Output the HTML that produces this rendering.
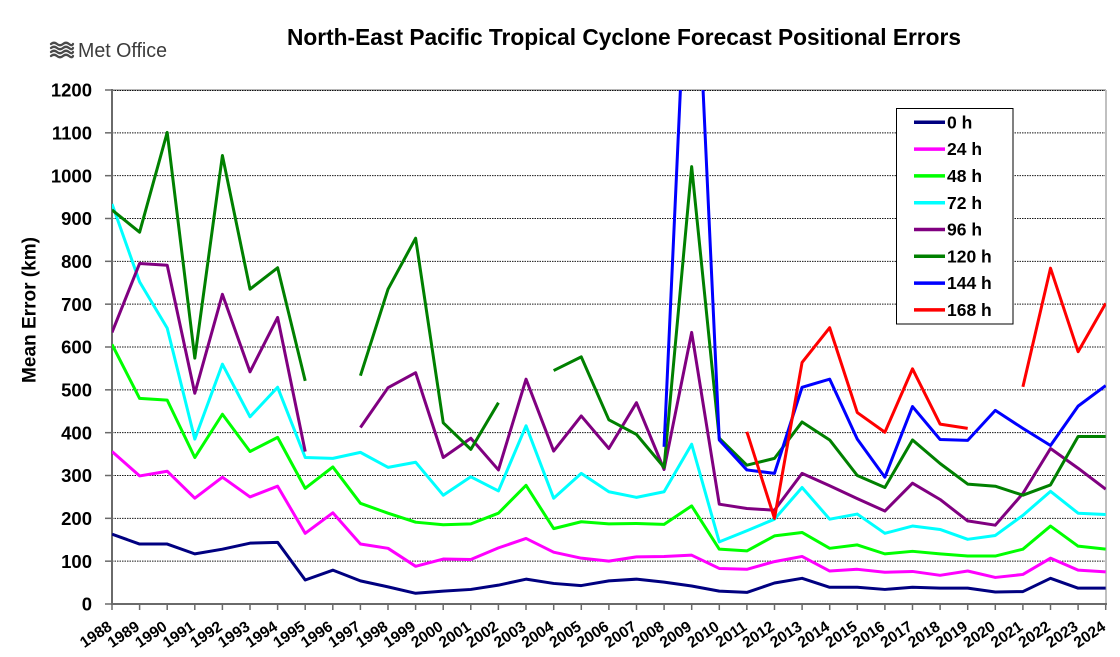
<!DOCTYPE html>
<html>
<head>
<meta charset="utf-8">
<style>
  html, body { margin: 0; padding: 0; background: #ffffff; }
  body { width: 1120px; height: 657px; overflow: hidden; }
  svg { display: block; }
  text { font-family: "Liberation Sans", Arial, sans-serif; }
</style>
</head>
<body>
<svg width="1120" height="657" viewBox="0 0 1120 657" xmlns="http://www.w3.org/2000/svg">
  <defs>
    <clipPath id="plot" clipPathUnits="userSpaceOnUse">
      <rect x="112" y="90" width="994" height="514"/>
    </clipPath>
  </defs>
  <rect x="0" y="0" width="1120" height="657" fill="#ffffff"/>

  <!-- Met Office logo -->
  <g fill="none" stroke="#4a4a4a" stroke-width="2.3" stroke-linecap="round">
    <path d="M51,44 q3,-2.5 6,0 t6,0 t6,0 t4,0"/>
    <path d="M51,48 q3,-2.5 6,0 t6,0 t6,0 t4,0"/>
    <path d="M51,52 q3,-2.5 6,0 t6,0 t6,0 t4,0"/>
    <path d="M51,56 q3,-2.5 6,0 t6,0 t6,0 t4,0"/>
  </g>
  <text x="78" y="57" font-size="20" fill="#3c3c3c" textLength="89" lengthAdjust="spacingAndGlyphs">Met Office</text>

  <!-- Title -->
  <text x="287" y="45" font-size="23" font-weight="bold" fill="#000" textLength="674" lengthAdjust="spacingAndGlyphs">North-East Pacific Tropical Cyclone Forecast Positional Errors</text>

  <!-- Y axis title -->
  <text transform="translate(35.5,310) rotate(-90)" text-anchor="middle" font-size="19" font-weight="bold" fill="#000" textLength="146" lengthAdjust="spacingAndGlyphs">Mean Error (km)</text>

  <!-- plot borders (top/right light gray) -->
  <line x1="112" y1="90" x2="1106" y2="90" stroke="#b8b8b8" stroke-width="2"/>
  <line x1="1106" y1="90" x2="1106" y2="604" stroke="#c0c0c0" stroke-width="2"/>

  <!-- gridlines -->
  <g stroke="#000" stroke-width="1" stroke-dasharray="1.5,1" opacity="0.9">
    <line x1="112" y1="90.5" x2="1105" y2="90.5"/>
    <line x1="112" y1="132.83" x2="1105" y2="132.83"/>
    <line x1="112" y1="175.67" x2="1105" y2="175.67"/>
    <line x1="112" y1="218.5" x2="1105" y2="218.5"/>
    <line x1="112" y1="261.33" x2="1105" y2="261.33"/>
    <line x1="112" y1="304.17" x2="1105" y2="304.17"/>
    <line x1="112" y1="347" x2="1105" y2="347"/>
    <line x1="112" y1="389.83" x2="1105" y2="389.83"/>
    <line x1="112" y1="432.67" x2="1105" y2="432.67"/>
    <line x1="112" y1="475.5" x2="1105" y2="475.5"/>
    <line x1="112" y1="518.33" x2="1105" y2="518.33"/>
    <line x1="112" y1="561.17" x2="1105" y2="561.17"/>
  </g>

  <!-- axes -->
  <g stroke="#6a6a6a" stroke-width="2">
    <line x1="112" y1="89" x2="112" y2="605"/>
    <line x1="111" y1="604" x2="1107" y2="604"/>
  </g>
  <!-- y ticks -->
  <g stroke="#6a6a6a" stroke-width="1.5">
    <line x1="105" y1="90" x2="112" y2="90"/>
    <line x1="105" y1="132.83" x2="112" y2="132.83"/>
    <line x1="105" y1="175.67" x2="112" y2="175.67"/>
    <line x1="105" y1="218.5" x2="112" y2="218.5"/>
    <line x1="105" y1="261.33" x2="112" y2="261.33"/>
    <line x1="105" y1="304.17" x2="112" y2="304.17"/>
    <line x1="105" y1="347" x2="112" y2="347"/>
    <line x1="105" y1="389.83" x2="112" y2="389.83"/>
    <line x1="105" y1="432.67" x2="112" y2="432.67"/>
    <line x1="105" y1="475.5" x2="112" y2="475.5"/>
    <line x1="105" y1="518.33" x2="112" y2="518.33"/>
    <line x1="105" y1="561.17" x2="112" y2="561.17"/>
    <line x1="105" y1="604" x2="112" y2="604"/>
  </g>
  <!-- x ticks -->
  <g stroke="#6a6a6a" stroke-width="1.5">
    <line x1="112" y1="604" x2="112" y2="610"/>
    <line x1="139.6" y1="604" x2="139.6" y2="610"/>
    <line x1="167.2" y1="604" x2="167.2" y2="610"/>
    <line x1="194.8" y1="604" x2="194.8" y2="610"/>
    <line x1="222.4" y1="604" x2="222.4" y2="610"/>
    <line x1="250.0" y1="604" x2="250.0" y2="610"/>
    <line x1="277.6" y1="604" x2="277.6" y2="610"/>
    <line x1="305.2" y1="604" x2="305.2" y2="610"/>
    <line x1="332.8" y1="604" x2="332.8" y2="610"/>
    <line x1="360.4" y1="604" x2="360.4" y2="610"/>
    <line x1="388.0" y1="604" x2="388.0" y2="610"/>
    <line x1="415.6" y1="604" x2="415.6" y2="610"/>
    <line x1="443.2" y1="604" x2="443.2" y2="610"/>
    <line x1="470.8" y1="604" x2="470.8" y2="610"/>
    <line x1="498.4" y1="604" x2="498.4" y2="610"/>
    <line x1="526.0" y1="604" x2="526.0" y2="610"/>
    <line x1="553.7" y1="604" x2="553.7" y2="610"/>
    <line x1="581.3" y1="604" x2="581.3" y2="610"/>
    <line x1="608.9" y1="604" x2="608.9" y2="610"/>
    <line x1="636.5" y1="604" x2="636.5" y2="610"/>
    <line x1="664.1" y1="604" x2="664.1" y2="610"/>
    <line x1="691.7" y1="604" x2="691.7" y2="610"/>
    <line x1="719.3" y1="604" x2="719.3" y2="610"/>
    <line x1="746.9" y1="604" x2="746.9" y2="610"/>
    <line x1="774.5" y1="604" x2="774.5" y2="610"/>
    <line x1="802.1" y1="604" x2="802.1" y2="610"/>
    <line x1="829.7" y1="604" x2="829.7" y2="610"/>
    <line x1="857.3" y1="604" x2="857.3" y2="610"/>
    <line x1="884.9" y1="604" x2="884.9" y2="610"/>
    <line x1="912.5" y1="604" x2="912.5" y2="610"/>
    <line x1="940.1" y1="604" x2="940.1" y2="610"/>
    <line x1="967.7" y1="604" x2="967.7" y2="610"/>
    <line x1="995.3" y1="604" x2="995.3" y2="610"/>
    <line x1="1022.9" y1="604" x2="1022.9" y2="610"/>
    <line x1="1050.5" y1="604" x2="1050.5" y2="610"/>
    <line x1="1078.1" y1="604" x2="1078.1" y2="610"/>
    <line x1="1105.7" y1="604" x2="1105.7" y2="610"/>
  </g>

  <!-- y tick labels -->
  <g font-size="18.5" font-weight="bold" fill="#000" text-anchor="end">
    <text x="92" y="96.7">1200</text>
    <text x="92" y="139.5">1100</text>
    <text x="92" y="182.4">1000</text>
    <text x="92" y="225.2">900</text>
    <text x="92" y="268.0">800</text>
    <text x="92" y="310.9">700</text>
    <text x="92" y="353.7">600</text>
    <text x="92" y="396.5">500</text>
    <text x="92" y="439.4">400</text>
    <text x="92" y="482.2">300</text>
    <text x="92" y="525.0">200</text>
    <text x="92" y="567.9">100</text>
    <text x="92" y="610.7">0</text>
  </g>

  <!-- x tick labels -->
  <g font-size="15.5" font-weight="bold" fill="#000" text-anchor="end">
    <text transform="translate(113,629) rotate(-34)">1988</text>
    <text transform="translate(140.6,629) rotate(-34)">1989</text>
    <text transform="translate(168.2,629) rotate(-34)">1990</text>
    <text transform="translate(195.8,629) rotate(-34)">1991</text>
    <text transform="translate(223.4,629) rotate(-34)">1992</text>
    <text transform="translate(251.0,629) rotate(-34)">1993</text>
    <text transform="translate(278.6,629) rotate(-34)">1994</text>
    <text transform="translate(306.2,629) rotate(-34)">1995</text>
    <text transform="translate(333.8,629) rotate(-34)">1996</text>
    <text transform="translate(361.4,629) rotate(-34)">1997</text>
    <text transform="translate(389.0,629) rotate(-34)">1998</text>
    <text transform="translate(416.6,629) rotate(-34)">1999</text>
    <text transform="translate(444.2,629) rotate(-34)">2000</text>
    <text transform="translate(471.8,629) rotate(-34)">2001</text>
    <text transform="translate(499.4,629) rotate(-34)">2002</text>
    <text transform="translate(527.0,629) rotate(-34)">2003</text>
    <text transform="translate(554.7,629) rotate(-34)">2004</text>
    <text transform="translate(582.3,629) rotate(-34)">2005</text>
    <text transform="translate(609.9,629) rotate(-34)">2006</text>
    <text transform="translate(637.5,629) rotate(-34)">2007</text>
    <text transform="translate(665.1,629) rotate(-34)">2008</text>
    <text transform="translate(692.7,629) rotate(-34)">2009</text>
    <text transform="translate(720.3,629) rotate(-34)">2010</text>
    <text transform="translate(747.9,629) rotate(-34)">2011</text>
    <text transform="translate(775.5,629) rotate(-34)">2012</text>
    <text transform="translate(803.1,629) rotate(-34)">2013</text>
    <text transform="translate(830.7,629) rotate(-34)">2014</text>
    <text transform="translate(858.3,629) rotate(-34)">2015</text>
    <text transform="translate(885.9,629) rotate(-34)">2016</text>
    <text transform="translate(913.5,629) rotate(-34)">2017</text>
    <text transform="translate(941.1,629) rotate(-34)">2018</text>
    <text transform="translate(968.7,629) rotate(-34)">2019</text>
    <text transform="translate(996.3,629) rotate(-34)">2020</text>
    <text transform="translate(1023.9,629) rotate(-34)">2021</text>
    <text transform="translate(1051.5,629) rotate(-34)">2022</text>
    <text transform="translate(1079.1,629) rotate(-34)">2023</text>
    <text transform="translate(1106.7,629) rotate(-34)">2024</text>
  </g>

  <!-- series -->
  <g clip-path="url(#plot)">
    <g transform="translate(112,604) scale(27.603,-0.42833)" fill="none" stroke-linejoin="round" stroke-linecap="butt">
      <!-- 0 h -->
      <polyline vector-effect="non-scaling-stroke" stroke="#000080" stroke-width="3"
        points="0,163 1,140 2,140 3,117 4,128 5,142 6,144 7,56 8,79 9,54 10,40 11,25 12,30 13,34 14,44 15,58 16,48 17,43 18,54 19,58 20,51 21,42 22,30 23,27 24,49 25,60 26,39 27,39 28,34 29,39 30,37 31,37 32,28 33,29 34,60 35,37 36,37"/>
      <!-- 24 h -->
      <polyline vector-effect="non-scaling-stroke" stroke="#FF00FF" stroke-width="3"
        points="0,356 1,299 2,310 3,247 4,296 5,250 6,275 7,165 8,213 9,140 10,130 11,88 12,105 13,104 14,131 15,153 16,121 17,107 18,100 19,110 20,111 21,114 22,83 23,81 24,99 25,111 26,77 27,81 28,74 29,76 30,67 31,77 32,62 33,69 34,107 35,79 36,75"/>
      <!-- 48 h -->
      <polyline vector-effect="non-scaling-stroke" stroke="#00FF00" stroke-width="3"
        points="0,606 1,480 2,476 3,342 4,443 5,356 6,389 7,270 8,320 9,235 10,212 11,191 12,185 13,187 14,212 15,277 16,176 17,192 18,187 19,188 20,186 21,229 22,128 23,124 24,159 25,167 26,130 27,138 28,117 29,123 30,117 31,112 32,112 33,128 34,182 35,135 36,128"/>
      <!-- 72 h -->
      <polyline vector-effect="non-scaling-stroke" stroke="#00FFFF" stroke-width="3"
        points="0,934 1,752 2,644 3,385 4,560 5,437 6,506 7,342 8,340 9,354 10,319 11,331 12,254 13,297 14,264 15,416 16,247 17,305 18,262 19,249 20,262 21,373 22,145 23,171 24,198 25,272 26,198 27,210 28,165 29,182 30,174 31,151 32,160 33,207 34,263 35,212 36,209"/>
      <!-- 96 h -->
      <polyline vector-effect="non-scaling-stroke" stroke="#800080" stroke-width="3"
        points="0,634 1,795 2,791 3,492 4,723 5,542 6,669 7,356"/>
      <polyline vector-effect="non-scaling-stroke" stroke="#800080" stroke-width="3"
        points="9,412 10,505 11,540 12,342 13,387 14,313 15,525 16,357 17,439 18,363 19,470 20,314 21,634 22,233 23,223 24,219 25,305 26,276 27,246 28,217 29,282 30,244 31,194 32,184 33,258 34,363 35,317 36,268"/>
      <!-- 120 h -->
      <polyline vector-effect="non-scaling-stroke" stroke="#008000" stroke-width="3"
        points="0,920 1,868 2,1101 3,574 4,1047 5,735 6,785 7,521"/>
      <polyline vector-effect="non-scaling-stroke" stroke="#008000" stroke-width="3"
        points="9,533 10,735 11,854 12,423 13,361 14,470"/>
      <polyline vector-effect="non-scaling-stroke" stroke="#008000" stroke-width="3"
        points="16,545 17,577 18,430 19,396 20,319 21,1021 22,387 23,324 24,340 25,425 26,383 27,300 28,272 29,383 30,328 31,280 32,275 33,254 34,278 35,391 36,391"/>
      <!-- 144 h -->
      <polyline vector-effect="non-scaling-stroke" stroke="#0000FF" stroke-width="3"
        points="20,367 21,1775 22,383 23,313 24,305 25,506 26,525 27,385 28,296 29,461 30,384 31,382 32,452 33,410 34,370 35,462 36,510"/>
      <!-- 168 h -->
      <polyline vector-effect="non-scaling-stroke" stroke="#FF0000" stroke-width="3"
        points="23,402 24,200 25,564 26,645 27,447 28,401 29,549 30,420 31,410"/>
      <polyline vector-effect="non-scaling-stroke" stroke="#FF0000" stroke-width="3"
        points="33,507 34,784 35,589 36,702"/>
    </g>
  </g>

  <!-- legend -->
  <rect x="896.5" y="108.5" width="116.5" height="215.5" fill="#ffffff" stroke="#000" stroke-width="1"/>
  <g stroke-width="3.5">
    <line x1="914" y1="122.3" x2="945" y2="122.3" stroke="#000080"/>
    <line x1="914" y1="149.1" x2="945" y2="149.1" stroke="#FF00FF"/>
    <line x1="914" y1="175.9" x2="945" y2="175.9" stroke="#00FF00"/>
    <line x1="914" y1="202.7" x2="945" y2="202.7" stroke="#00FFFF"/>
    <line x1="914" y1="229.5" x2="945" y2="229.5" stroke="#800080"/>
    <line x1="914" y1="256.3" x2="945" y2="256.3" stroke="#008000"/>
    <line x1="914" y1="283.1" x2="945" y2="283.1" stroke="#0000FF"/>
    <line x1="914" y1="309.9" x2="945" y2="309.9" stroke="#FF0000"/>
  </g>
  <g font-size="17.5" font-weight="bold" fill="#000">
    <text x="947" y="128.4">0 h</text>
    <text x="947" y="155.2">24 h</text>
    <text x="947" y="182.0">48 h</text>
    <text x="947" y="208.8">72 h</text>
    <text x="947" y="235.6">96 h</text>
    <text x="947" y="262.4">120 h</text>
    <text x="947" y="289.2">144 h</text>
    <text x="947" y="316.0">168 h</text>
  </g>
</svg>
</body>
</html>
